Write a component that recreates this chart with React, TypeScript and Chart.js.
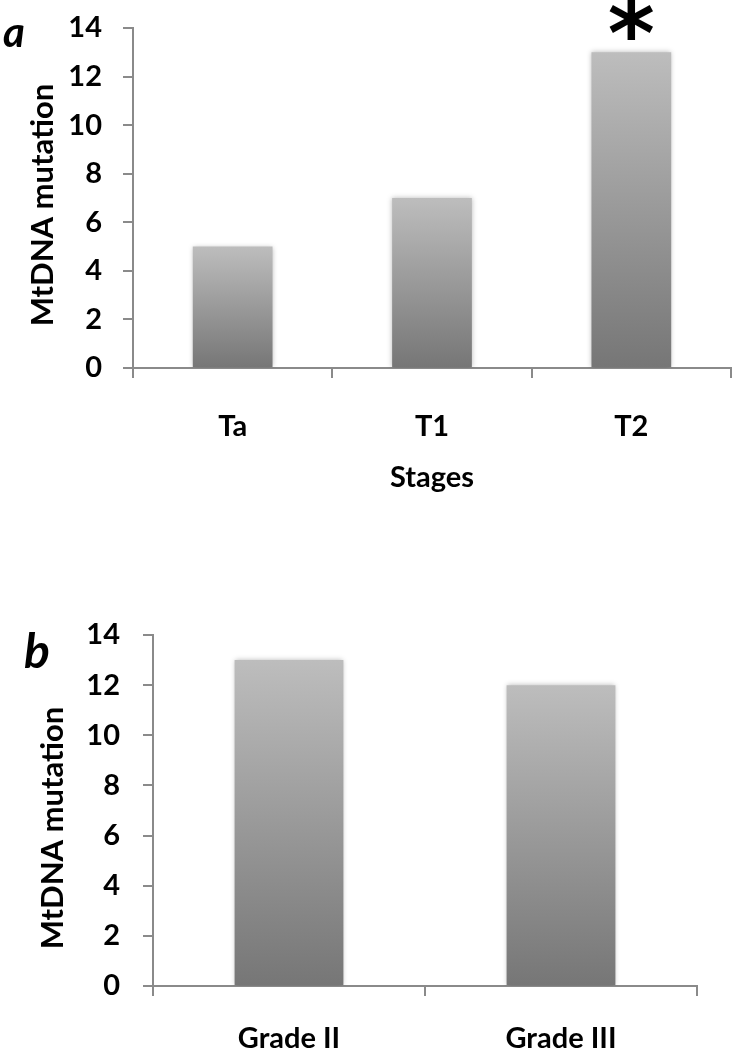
import React, { useEffect, useRef } from 'react';
import { Chart, registerables } from 'chart.js';

Chart.register(...registerables);

const FONT = 'Lato, "Open Sans", sans-serif';
const AXIS_COLOR = '#8a8a8a';
const BAR_TOP = '#bdbdbd';
const BAR_BOTTOM = '#767676';

// ---- data ----
const stageLabels = ['Ta', 'T1', 'T2'];
const stageValues = [5, 7, 13];
const stageMarks = ['', '', '*'];
const gradeLabels = ['Grade II', 'Grade III'];
const gradeValues = [13, 12];
const gradeMarks = ['', ''];
const yMin = 0;
const yMax = 14;
const yStep = 2;
const yTitle = 'MtDNA mutation';
const stageTitle = 'Stages';

type PanelProps = {
  labels: string[];
  values: number[];
  marks: string[];
  xTitle?: string;
  letter: string;
  top: number;
  height: number;
  geom: {
    padTop: number;
    padRight: number;
    yWidth: number;
    xHeight: number;
    yTickPad: number;
    xTickPad: number;
    xTitlePadBottom: number;
    yTitleX: number;
    yTitleY: number;
    letterX: number;
    letterY: number;
    letterSize: number;
  };
};

function Panel({ labels, values, marks, xTitle, letter, top, height, geom }: PanelProps) {
  const ref = useRef<HTMLCanvasElement | null>(null);

  useEffect(() => {
    if (!ref.current) return;
    const tickFont = { family: FONT, size: 29, weight: 'bold' as const };

    const textPlugin = {
      id: 'panelText',
      beforeDatasetsDraw(chart: any) {
        const c = chart.ctx;
        c.save();
        c.shadowColor = 'rgba(0,0,0,0.28)';
        c.shadowBlur = 5;
      },
      afterDatasetsDraw(chart: any) {
        chart.ctx.restore();
      },
      afterDraw(chart: any) {
        const c = chart.ctx;
        // y-axis title
        c.save();
        c.translate(geom.yTitleX, geom.yTitleY);
        c.rotate(-Math.PI / 2);
        c.fillStyle = '#000';
        c.font = `bold 31px ${FONT}`;
        c.textAlign = 'center';
        c.textBaseline = 'middle';
        c.fillText(yTitle, 0, 0);
        c.restore();
        // panel letter
        c.save();
        c.fillStyle = '#000';
        c.font = `italic bold ${geom.letterSize}px ${FONT}`;
        c.textAlign = 'left';
        c.textBaseline = 'alphabetic';
        c.fillText(letter, geom.letterX, geom.letterY);
        c.restore();
        // significance marks
        const xs = chart.scales.x;
        const ys = chart.scales.y;
        c.save();
        c.fillStyle = '#000';
        c.font = `bold 90px "DejaVu Sans", sans-serif`;
        c.textAlign = 'center';
        c.textBaseline = 'alphabetic';
        marks.forEach((m, i) => {
          if (!m) return;
          const x = xs.getPixelForValue(i);
          const y = ys.getPixelForValue(values[i]);
          c.fillText(m, x, y + 13);
        });
        c.restore();
      },
    };

    const chart = new Chart(ref.current, {
      type: 'bar',
      data: {
        labels,
        datasets: [
          {
            data: values,
            barPercentage: 0.4,
            categoryPercentage: 1,
            borderWidth: 0,
            backgroundColor: (ctx: any) => {
              const ch = ctx.chart;
              if (!ch.chartArea || ctx.type !== 'data' || !ch.scales.y) return '#999';
              const ys = ch.scales.y;
              const t = ys.getPixelForValue(ctx.parsed.y);
              const b = ys.getPixelForValue(0);
              const g = ch.ctx.createLinearGradient(0, t, 0, b);
              g.addColorStop(0, BAR_TOP);
              g.addColorStop(1, BAR_BOTTOM);
              return g;
            },
          },
        ],
      },
      options: {
        animation: false,
        responsive: false,
        devicePixelRatio: 1,
        layout: { padding: { left: 0, top: geom.padTop, right: geom.padRight, bottom: 0 } },
        plugins: { legend: { display: false }, tooltip: { enabled: false } },
        scales: {
          x: {
            type: 'category',
            offset: true,
            border: { display: true, color: AXIS_COLOR, width: 2 },
            grid: {
              display: true,
              drawOnChartArea: false,
              drawTicks: true,
              tickLength: 10,
              color: AXIS_COLOR,
              lineWidth: 2,
              offset: true,
            },
            ticks: { color: '#000', font: tickFont, padding: geom.xTickPad, maxRotation: 0, autoSkip: false },
            title: {
              display: !!xTitle,
              text: xTitle || '',
              color: '#000',
              font: tickFont,
              padding: { top: 0, bottom: geom.xTitlePadBottom },
            },
            afterFit: (s: any) => {
              s.height = geom.xHeight;
              s.paddingLeft = 0;
              s.paddingRight = 0;
            },
          },
          y: {
            min: yMin,
            max: yMax,
            border: { display: true, color: AXIS_COLOR, width: 2 },
            grid: {
              display: true,
              drawOnChartArea: false,
              drawTicks: true,
              tickLength: 10,
              color: AXIS_COLOR,
              lineWidth: 2,
            },
            ticks: { stepSize: yStep, color: '#000', font: tickFont, padding: geom.yTickPad },
            afterFit: (s: any) => {
              s.width = geom.yWidth;
              s.paddingTop = 0;
              s.paddingBottom = 0;
            },
          },
        },
      },
      plugins: [textPlugin],
    } as any);
    return () => chart.destroy();
  }, []);

  return (
    <canvas
      ref={ref}
      width={734}
      height={height}
      style={{ position: 'absolute', left: 0, top, width: 734, height, display: 'block' }}
    />
  );
}

export default function App() {
  return (
    <div style={{ position: 'absolute', left: 0, top: 0, width: 734, height: 1050, background: '#fff' }}>
      <Panel
        labels={stageLabels}
        values={stageValues}
        marks={stageMarks}
        xTitle={stageTitle}
        letter="a"
        top={0}
        height={510}
        geom={{
          padTop: 28,
          padRight: 3,
          yWidth: 133,
          xHeight: 142,
          yTickPad: 21,
          xTickPad: 31,
          xTitlePadBottom: 15,
          yTitleX: 43,
          yTitleY: 205,
          letterX: 3,
          letterY: 47,
          letterSize: 42,
        }}
      />
      <Panel
        labels={gradeLabels}
        values={gradeValues}
        marks={gradeMarks}
        letter="b"
        top={600}
        height={450}
        geom={{
          padTop: 35,
          padRight: 37,
          yWidth: 153,
          xHeight: 64,
          yTickPad: 23,
          xTickPad: 25,
          xTitlePadBottom: 0,
          yTitleX: 53,
          yTitleY: 228,
          letterX: 24,
          letterY: 68,
          letterSize: 48,
        }}
      />
    </div>
  );
}
